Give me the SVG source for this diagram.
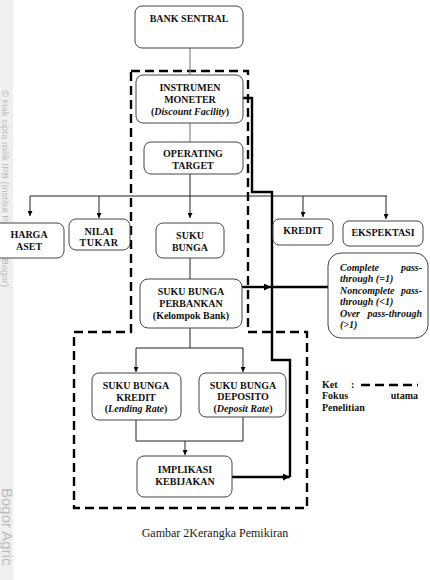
<svg xmlns="http://www.w3.org/2000/svg" width="430" height="580" viewBox="0 0 430 580">
<defs>
<style>
.box{fill:#fff;stroke:#444;stroke-width:1}
.t{font-family:'Liberation Serif','Times New Roman',serif;font-size:10px;font-weight:bold;fill:#111;text-anchor:middle}
.i{font-style:italic}
.pt{font-family:'Liberation Serif','Times New Roman',serif;font-size:10px;font-weight:bold;font-style:italic;fill:#111}
.lg{font-family:'Liberation Serif','Times New Roman',serif;font-size:10px;font-weight:bold;fill:#111}
.cap{font-family:'Liberation Serif','Times New Roman',serif;font-size:12px;fill:#222;text-anchor:middle}
.ln{fill:none;stroke:#222;stroke-width:1}
.gl{fill:none;stroke:#888;stroke-width:1.2}
.thick{fill:none;stroke:#000;stroke-width:2.4}
.dash{fill:none;stroke:#000;stroke-width:2.4;stroke-dasharray:9 5}
.wm{font-family:'Liberation Sans',Arial,sans-serif;fill:#bdbdbd}
</style>
<marker id="ah" viewBox="0 0 10 10" refX="10" refY="5" markerWidth="5" markerHeight="5" orient="auto" markerUnits="userSpaceOnUse">
<path d="M0,0 L10,5 L0,10 z" fill="#000"/>
</marker>
<marker id="ahb" viewBox="0 0 10 10" refX="10" refY="5" markerWidth="7" markerHeight="7" orient="auto" markerUnits="userSpaceOnUse">
<path d="M0,0 L10,5 L0,10 z" fill="#000"/>
</marker>
</defs>
<rect width="430" height="580" fill="#fff"/>
<rect x="0" y="0" width="13" height="580" fill="#efefef"/>
<g id="watermark">
<text class="wm" font-size="9.5" transform="translate(2,90) rotate(90)">© Hak cipta milik IPB (Institut Pertanian Bogor)</text>
<text class="wm" font-size="15" transform="translate(2,488) rotate(90)">Bogor Agric</text>
</g>

<g id="focus-region">
<path class="dash" d="M131,71 H248 V332 H307 V508 H74 V332 H131 Z"/>
</g>

<g id="connectors">
<line class="gl" x1="190" y1="48" x2="190" y2="75"/>
<line class="gl" x1="190" y1="123" x2="190" y2="142"/>
<line class="ln" x1="190" y1="174" x2="190" y2="196"/>
<line class="ln" x1="30" y1="196" x2="387" y2="196"/>
<line class="ln" x1="30" y1="196" x2="30" y2="216" marker-end="url(#ah)"/>
<line class="ln" x1="99" y1="196" x2="99" y2="218" marker-end="url(#ah)"/>
<line class="ln" x1="190" y1="196" x2="190" y2="218" marker-end="url(#ah)"/>
<line class="ln" x1="303" y1="196" x2="303" y2="217" marker-end="url(#ah)"/>
<line class="ln" x1="386" y1="196" x2="386" y2="219" marker-end="url(#ah)"/>
<line class="ln" x1="190" y1="258" x2="190" y2="279"/>
<line class="ln" x1="190" y1="328" x2="190" y2="348"/>
<line class="ln" x1="136" y1="348" x2="243" y2="348"/>
<line class="ln" x1="136" y1="348" x2="136" y2="372" marker-end="url(#ah)"/>
<line class="ln" x1="243" y1="348" x2="243" y2="372" marker-end="url(#ah)"/>
<path class="ln" d="M136,420 V441 H243 V417"/>
<line class="ln" x1="185" y1="441" x2="185" y2="455" marker-end="url(#ah)"/>
<line class="thick" x1="242" y1="287" x2="271" y2="287" marker-end="url(#ahb)"/>
<line class="thick" x1="271" y1="287" x2="328" y2="287"/>
<path class="thick" d="M243,98 H252 V192 H272 V360 H290 V477"/>
<line class="thick" x1="232" y1="477" x2="290" y2="477" marker-end="url(#ahb)"/>
</g>

<g id="bank-sentral">
<rect class="box" x="135" y="6" width="108" height="42" rx="7"/>
<text class="t" x="189" y="22">BANK SENTRAL</text>
</g>
<g id="instrumen-moneter">
<rect class="box" x="136" y="75" width="107" height="48" rx="7"/>
<text class="t" x="190" y="91">INSTRUMEN</text>
<text class="t" x="190" y="103">MONETER</text>
<text class="t" x="190" y="115">(<tspan class="i">Discount Facility</tspan>)</text>
</g>
<g id="operating-target">
<rect class="box" x="144" y="142" width="99" height="32" rx="7"/>
<text class="t" x="193" y="157">OPERATING</text>
<text class="t" x="193" y="169">TARGET</text>
</g>
<g id="harga-aset">
<rect class="box" x="-8" y="223" width="72" height="35" rx="7"/>
<text class="t" x="29" y="238">HARGA</text>
<text class="t" x="29" y="250">ASET</text>
</g>
<g id="nilai-tukar">
<rect class="box" x="69" y="219" width="61" height="31" rx="7"/>
<text class="t" x="99" y="235">NILAI</text>
<text class="t" x="99" y="246" letter-spacing="0.6">TUKAR</text>
</g>
<g id="suku-bunga">
<rect class="box" x="156" y="223" width="68" height="35" rx="7"/>
<text class="t" x="190" y="239">SUKU</text>
<text class="t" x="190" y="251">BUNGA</text>
</g>
<g id="kredit">
<rect class="box" x="273" y="219" width="60" height="26" rx="6"/>
<text class="t" x="303" y="234">KREDIT</text>
</g>
<g id="ekspektasi">
<rect class="box" x="343" y="221" width="80" height="25" rx="6"/>
<text class="t" x="383" y="236">EKSPEKTASI</text>
</g>
<g id="pass-through">
<rect class="box" x="328" y="253" width="100" height="85" rx="13"/>
<text class="pt" x="340" y="271">Complete</text>
<text class="pt" x="422" y="271" text-anchor="end">pass-</text>
<text class="pt" x="340" y="282">through (=1)</text>
<text class="pt" x="340" y="294">Noncomplete</text>
<text class="pt" x="422" y="294" text-anchor="end">pass-</text>
<text class="pt" x="340" y="305">through (&lt;1)</text>
<text class="pt" x="340" y="317">Over</text>
<text class="pt" x="422" y="317" text-anchor="end">pass-through</text>
<text class="pt" x="340" y="328">(&gt;1)</text>
</g>
<g id="suku-bunga-perbankan">
<rect class="box" x="140" y="279" width="102" height="49" rx="8"/>
<text class="t" x="191" y="295">SUKU BUNGA</text>
<text class="t" x="191" y="307">PERBANKAN</text>
<text class="t" x="191" y="319">(Kelompok Bank)</text>
</g>
<g id="suku-bunga-kredit">
<rect class="box" x="92" y="373" width="89" height="47" rx="7"/>
<text class="t" x="136" y="389">SUKU BUNGA</text>
<text class="t" x="136" y="401">KREDIT</text>
<text class="t" x="136" y="412">(<tspan class="i">Lending Rate</tspan>)</text>
</g>
<g id="suku-bunga-deposito">
<rect class="box" x="199" y="373" width="87" height="44" rx="7"/>
<text class="t" x="243" y="389">SUKU BUNGA</text>
<text class="t" x="243" y="400">DEPOSITO</text>
<text class="t" x="243" y="412">(<tspan class="i">Deposit Rate</tspan>)</text>
</g>
<g id="implikasi-kebijakan">
<rect class="box" x="137" y="456" width="95" height="41" rx="7"/>
<text class="t" x="185" y="473">IMPLIKASI</text>
<text class="t" x="185" y="485">KEBIJAKAN</text>
</g>

<g id="legend">
<text class="lg" x="322" y="388">Ket</text>
<text class="lg" x="351" y="388">:</text>
<line class="dash" x1="361" y1="385" x2="418" y2="385"/>
<text class="lg" x="322" y="399">Fokus</text>
<text class="lg" x="418" y="399" text-anchor="end">utama</text>
<text class="lg" x="322" y="411">Penelitian</text>
</g>

<text class="cap" x="215" y="537">Gambar 2Kerangka Pemikiran</text>
</svg>
